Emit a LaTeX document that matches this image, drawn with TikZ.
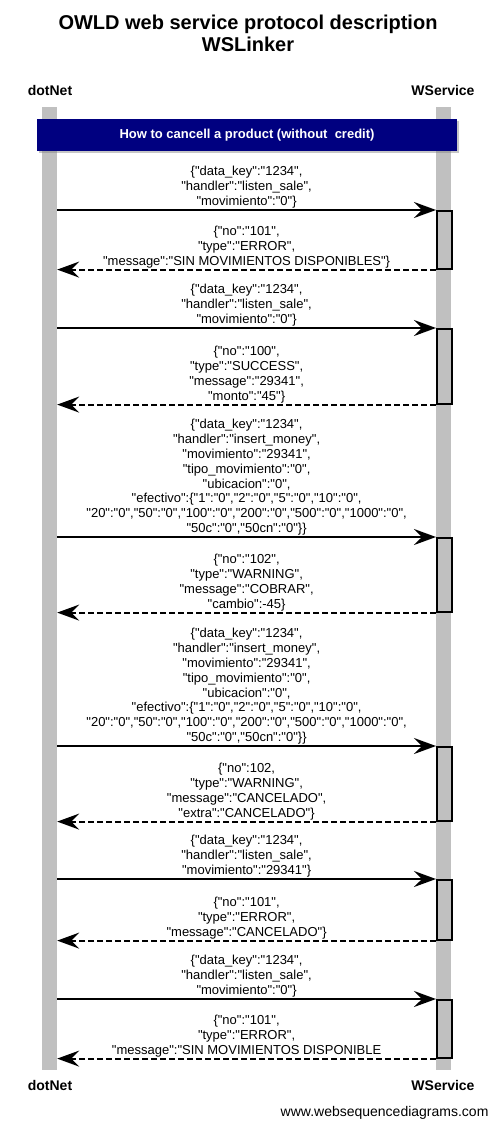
\documentclass[tikz,border=0pt]{standalone}
\usepackage{fontspec}
\setmainfont{Liberation Sans}[Ligatures=TeXOff]
\usetikzlibrary{arrows.meta,shadows}

\definecolor{lifegray}{RGB}{192,192,192}
\definecolor{notenavy}{RGB}{0,0,128}

\begin{document}
\begin{tikzpicture}[x=1pt,y=-1pt,
  lifeline/.style={fill=lifegray,draw=none,inner sep=0pt,minimum width=15pt},
  actbox/.style={draw=black,line width=1.6pt,fill=lifegray,minimum width=15pt,inner sep=0pt,anchor=north west,
    drop shadow={shadow xshift=1.5pt,shadow yshift=-1.5pt,opacity=0.45}},
  msg/.style={line width=1.8pt,-{Stealth[length=22pt,width=16pt,inset=8pt]}},
  reply/.style={msg,dash pattern=on 6pt off 3pt},
  lbl/.style={above,align=center,inner sep=1pt,font=\fontsize{13}{14.8}\selectfont},
  who/.style={font=\fontsize{14}{16}\selectfont\bfseries}]
\useasboundingbox (0,0) rectangle (500,1129);

% title and participants
\node[font=\fontsize{20}{22}\selectfont\bfseries,align=center] (title) at (248,33) {OWLD web service protocol description\\WSLinker};
\node[who] (dotTop) at (50,90) {dotNet};
\node[who] (wsTop) at (443,90) {WService};
\node[who] (dotBot) at (50,1085) {dotNet};
\node[who] (wsBot) at (443,1085) {WService};

% lifelines
\node[lifeline,minimum height=963pt] (dotLine) at (49.5,588.5) {};
\node[lifeline,minimum height=963pt] (wsLine) at (443.5,588.5) {};

% note
\node[fill=notenavy,text=white,font=\fontsize{13}{15}\selectfont\bfseries,minimum width=420pt,minimum height=32pt,
  drop shadow={shadow xshift=2pt,shadow yshift=-2pt,opacity=0.45}] (note) at (247,135) {How to cancell a product (without\ \ credit)};

% activations
\foreach \n/\ya/\yb in {1/210/268,2/328/403,3/537/611,4/746/820,5/879/939,6/999/1057}
  \node[actbox,minimum height=\yb-\ya] (act\n) at (436,\ya) {};

% messages
\draw[msg] (dotLine.east |- act1.north west) -- node[lbl] {\{"data\_key":"1234",\\"handler":"listen\_sale",\\"movimiento":"0"\}} (act1.north west);
\draw[reply] (act1.south west) -- node[lbl] {\{"no":"101",\\"type":"ERROR",\\"message":"SIN MOVIMIENTOS DISPONIBLES"\}} (dotLine.east |- act1.south west);

\draw[msg] (dotLine.east |- act2.north west) -- node[lbl] {\{"data\_key":"1234",\\"handler":"listen\_sale",\\"movimiento":"0"\}} (act2.north west);
\draw[reply] (act2.south west) -- node[lbl] {\{"no":"100",\\"type":"SUCCESS",\\"message":"29341",\\"monto":"45"\}} (dotLine.east |- act2.south west);

\draw[msg] (dotLine.east |- act3.north west) -- node[lbl] {\{"data\_key":"1234",\\"handler":"insert\_money",\\"movimiento":"29341",\\"tipo\_movimiento":"0",\\"ubicacion":"0",\\"efectivo":\{"1":"0","2":"0","5":"0","10":"0",\\"20":"0","50":"0","100":"0","200":"0","500":"0","1000":"0",\\"50c":"0","50cn":"0"\}\}} (act3.north west);
\draw[reply] (act3.south west) -- node[lbl] {\{"no":"102",\\"type":"WARNING",\\"message":"COBRAR",\\"cambio":-45\}} (dotLine.east |- act3.south west);

\draw[msg] (dotLine.east |- act4.north west) -- node[lbl] {\{"data\_key":"1234",\\"handler":"insert\_money",\\"movimiento":"29341",\\"tipo\_movimiento":"0",\\"ubicacion":"0",\\"efectivo":\{"1":"0","2":"0","5":"0","10":"0",\\"20":"0","50":"0","100":"0","200":"0","500":"0","1000":"0",\\"50c":"0","50cn":"0"\}\}} (act4.north west);
\draw[reply] (act4.south west) -- node[lbl] {\{"no":102,\\"type":"WARNING",\\"message":"CANCELADO",\\"extra":"CANCELADO"\}} (dotLine.east |- act4.south west);

\draw[msg] (dotLine.east |- act5.north west) -- node[lbl] {\{"data\_key":"1234",\\"handler":"listen\_sale",\\"movimiento":"29341"\}} (act5.north west);
\draw[reply] (act5.south west) -- node[lbl] {\{"no":"101",\\"type":"ERROR",\\"message":"CANCELADO"\}} (dotLine.east |- act5.south west);

\draw[msg] (dotLine.east |- act6.north west) -- node[lbl] {\{"data\_key":"1234",\\"handler":"listen\_sale",\\"movimiento":"0"\}} (act6.north west);
\draw[reply] (act6.south west) -- node[lbl] {\{"no":"101",\\"type":"ERROR",\\"message":"SIN MOVIMIENTOS DISPONIBLE} (dotLine.east |- act6.south west);

% footer
\node[anchor=east,font=\fontsize{14}{16}\selectfont] (site) at (492,1113) {www.websequencediagrams.com};
\end{tikzpicture}
\end{document}
